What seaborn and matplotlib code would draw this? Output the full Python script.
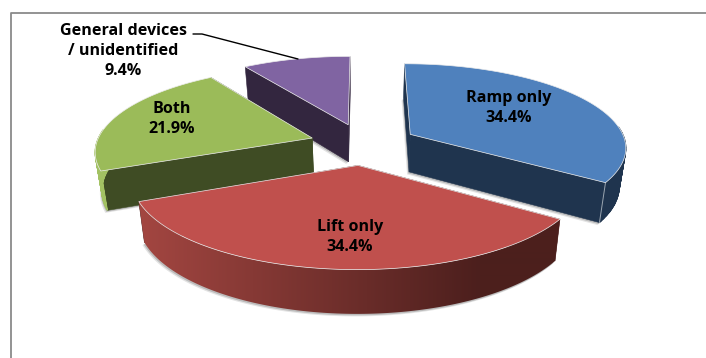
import numpy as np
import matplotlib
matplotlib.use("Agg")
import matplotlib.pyplot as plt
from matplotlib.colors import to_rgb
from matplotlib.patches import Polygon
import seaborn as sns

# Survey shares, clockwise from twelve o'clock
categories = ["Ramp only", "Lift only", "Both", "General devices\n/ unidentified"]
shares = [34.4, 34.4, 21.9, 9.4]

# Face and wall colours for each slice
top_colors = sns.color_palette(["#4f81bd", "#c0504d", "#9bbb59", "#8064a2"])
radial_colors = ["#1f344e", "#4c1f1d", "#3f4c24", "#33263f"]
wall_left = ["#1f344e", "#a34641", "#a3c263", "#33263f"]
wall_right = ["#1f344e", "#4c1f1d", "#a3c263", "#33263f"]
paint_order = [3, 0, 2, 1]

# Label centres in canvas pixels
label_xy = [(509, 108), (350, 237), (172, 119), (123, 51)]

# Projection of the pie plane onto the canvas
CX, CY, RX, RY, PERSP = 363.4, 144.0, 216.0, 83.0, 0.14
EXPLODE, DEPTH = 0.25, 38.0

sns.set_style("white")
plt.rcParams["font.family"] = ["Open Sans", "DejaVu Sans"]


def project(px, py):
    w = 1 - PERSP * py
    return CX + RX * px / w, CY + RY * py / w


def drop(x, y):
    return CX + (x - CX) * 0.975, y + DEPTH + 0.05 * (y - CY)


fig = plt.figure(figsize=(7.06, 3.58), dpi=100)
ax = fig.add_axes([0, 0, 1, 1])

# Chart frame, open towards the right and bottom of the canvas
ax.plot([10.5, 10.5, 706], [358, 13, 13], color="#8a8a8a", lw=1.3, zorder=1)

fractions = np.asarray(shares) / sum(shares)
edges = np.concatenate([[0], np.cumsum(fractions)]) * 2 * np.pi

for i in paint_order:
    t0, t1 = edges[i], edges[i + 1]
    mid = (t0 + t1) / 2
    ox, oy = EXPLODE * np.sin(mid), -EXPLODE * np.cos(mid)
    theta = np.linspace(t0, t1, 121)
    rim_x, rim_y = project(ox + np.sin(theta), oy - np.cos(theta))
    tip_x, tip_y = project(ox, oy)
    low_x, low_y = drop(rim_x, rim_y)
    tip_lx, tip_ly = drop(tip_x, tip_y)
    base = np.column_stack([np.r_[tip_lx, low_x], np.r_[tip_ly, low_y]])

    # Soft contact shadow below the base
    for off, alpha in [((-2.0, 2.5), 0.22), ((-1.0, 1.5), 0.4)]:
        ax.add_patch(Polygon(base + off, closed=True, fc="#808080", ec="none",
                             alpha=alpha, zorder=2))

    # Radial walls
    dark = radial_colors[i]
    for k in (0, -1):
        quad = [(tip_x, tip_y), (rim_x[k], rim_y[k]), (low_x[k], low_y[k]), (tip_lx, tip_ly)]
        ax.add_patch(Polygon(quad, closed=True, fc=dark, ec=dark, lw=0.4, zorder=3))

    # Outer wall: a left-to-right shade where the colours differ, otherwise flat.
    # Flat walls only need the stretch of rim that faces the viewer.
    if wall_left[i] != wall_right[i]:
        c_left, c_right = np.array(to_rgb(wall_left[i])), np.array(to_rgb(wall_right[i]))
        s = np.clip((np.linspace(0, 706, 706) - 140) / 340, 0, 1)[None, :, None]
        ramp = c_left[None, None, :] + (c_right - c_left)[None, None, :] * s
        wall = np.column_stack([np.r_[rim_x, low_x[::-1]], np.r_[rim_y, low_y[::-1]]])
        clip = Polygon(wall, closed=True, transform=ax.transData, fc="none", ec="none")
        ax.add_patch(clip)
        img = ax.imshow(ramp, extent=(0, 706, 358, 0), aspect="auto", zorder=3,
                        interpolation="bilinear")
        img.set_clip_path(clip)
    else:
        for k in range(len(theta) - 1):
            if np.cos(theta[k]) > 0.1:
                continue
            quad = [(rim_x[k], rim_y[k]), (rim_x[k + 1], rim_y[k + 1]),
                    (low_x[k + 1], low_y[k + 1]), (low_x[k], low_y[k])]
            ax.add_patch(Polygon(quad, closed=True, fc=wall_left[i], ec=wall_left[i],
                                 lw=0.8, zorder=3))

    # Pale seam where the radial wall meets the outer wall
    if i == 0:
        ax.plot([rim_x[-1], low_x[-1]], [rim_y[-1], low_y[-1]],
                color="#9aa5b0", lw=0.7, zorder=3)

    # Top face
    top = np.column_stack([np.r_[tip_x, rim_x], np.r_[tip_y, rim_y]])
    ax.add_patch(Polygon(top, closed=True, fc=top_colors[i], ec="#ececec", lw=0.5, zorder=3))

# Leader from the small slice to its label
ax.plot([193, 202, 298], [34, 34, 59], color="black", lw=1.0, zorder=4)

for name, share, (x, y) in zip(categories, shares, label_xy):
    ax.text(x, y, f"{name}\n{share:.1f}%", ha="center", va="center", fontsize=11.6,
            fontweight="bold", linespacing=1.32, color="black", zorder=5)

ax.set_xlim(0, 706)
ax.set_ylim(358, 0)
ax.axis("off")

fig.savefig("out.png", dpi=100)
